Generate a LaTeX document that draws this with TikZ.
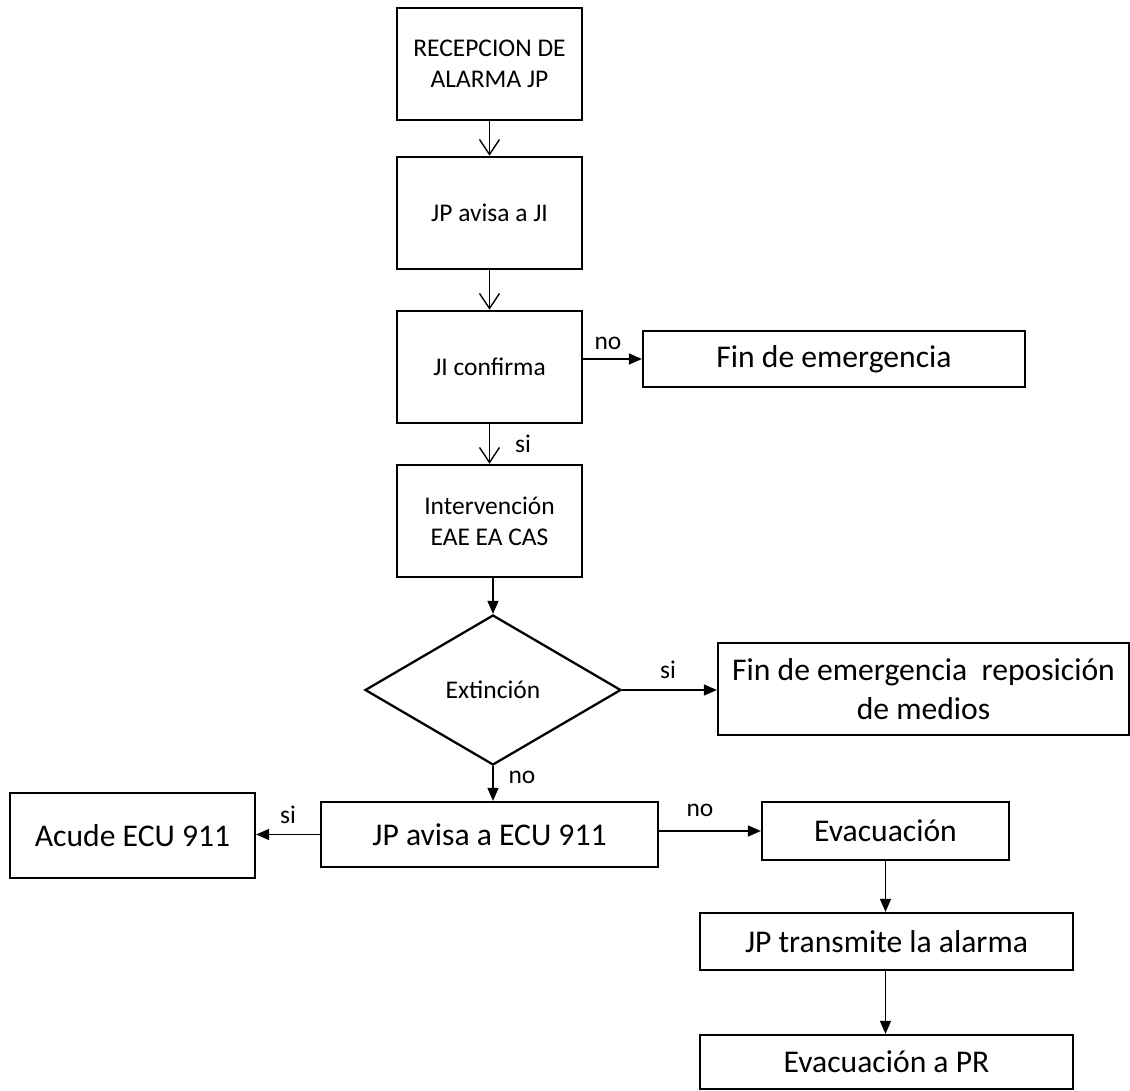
\documentclass[tikz,border=0pt]{standalone}
\usepackage{fontspec}
\setmainfont{Carlito}
\usetikzlibrary{arrows.meta,positioning,shapes.geometric}

\begin{document}
\begin{tikzpicture}[
  x=0.02cm, y=-0.02cm,
  font=\fontsize{14.5}{17.5}\selectfont,
  smallbox/.style={draw, line width=1.5pt, align=center, inner sep=0pt, minimum width=3.7cm, minimum height=2.24cm},
  bigbox/.style={draw, line width=1.3pt, align=center, inner sep=0pt, font=\fontsize{18}{22}\selectfont},
  decision/.style={draw, diamond, line width=1.3pt, align=center, inner sep=0pt, minimum width=5.12cm, minimum height=3cm},
  lbl/.style={inner sep=1pt},
  openarrow/.style={-{Straight Barb[length=0.3cm, width=0.4cm]}, line width=0.8pt},
  arrow/.style={-{Triangle[length=0.26cm, width=0.22cm]}, line width=0.8pt}
]
\useasboundingbox (0,0) rectangle (1130,1091);

\node[smallbox] (rec) at (489.5,64) {RECEPCION DE\\ALARMA JP};
\node[smallbox] (avisaji) at (489.5,213) {JP avisa a JI};
\node[smallbox] (confirma) at (489.5,367) {JI confirma};
\node[bigbox, minimum width=7.64cm, minimum height=1.12cm] (fin) at (834,359) {Fin de emergencia};
\node[smallbox] (interv) at (489.5,521) {Intervención\\EAE EA CAS};
\node[decision] (ext) at (493,690) {Extinción};
\node[bigbox, minimum width=8.22cm, minimum height=1.84cm] (finrep) at (923.5,689) {Fin de emergencia\ \ reposición\\de medios};
\node[bigbox, minimum width=6.74cm, minimum height=1.3cm] (ecu) at (489.5,834.5) {JP avisa a ECU 911};
\node[bigbox, minimum width=4.9cm, minimum height=1.7cm] (acude) at (132.5,835.5) {Acude ECU 911};
\node[bigbox, minimum width=4.94cm, minimum height=1.16cm] (evac) at (885.5,831) {Evacuación};
\node[bigbox, minimum width=7.46cm, minimum height=1.14cm] (transm) at (886.5,941.5) {JP transmite la alarma};
\node[bigbox, minimum width=7.46cm, minimum height=1.08cm] (evacpr) at (886.5,1062) {Evacuación a PR};

% si / no
\node[lbl] (no1) at (608,343) {no};
\node[lbl] (si1) at (523,444) {si};
\node[lbl] (si2) at (668,670) {si};
\node[lbl] (no2) at (522,777) {no};
\node[lbl] (si3) at (288,815) {si};
\node[lbl] (no3) at (700,810) {no};

\draw[openarrow] (rec) -- (avisaji);
\draw[openarrow] (avisaji) -- (confirma);
\draw[openarrow] (confirma) -- (interv);
\draw[arrow] (confirma.east |- fin.west) -- (fin.west);
\draw[arrow] (interv.south -| ext.north) -- (ext.north);
\draw[arrow] (ext.east) -- (ext.east -| finrep.west);
\draw[arrow] (ext.south) -- (ext.south |- ecu.north);
\draw[arrow] (ecu.west) -- (ecu.west -| acude.east);
\draw[arrow] (ecu.east |- evac.west) -- (evac.west);
\draw[arrow] (evac.south) -- (transm.north -| evac.south);
\draw[arrow] (transm.south -| evac.south) -- (evacpr.north -| evac.south);
\end{tikzpicture}
\end{document}
